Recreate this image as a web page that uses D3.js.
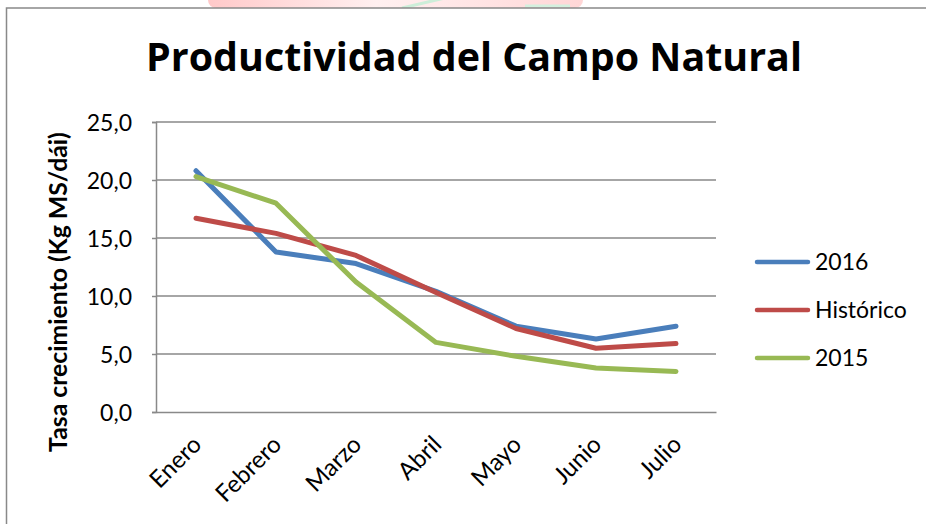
<!DOCTYPE html>
<html>
<head>
<meta charset="utf-8">
<script src="https://cdn.jsdelivr.net/npm/d3@7"></script>
<style>
  html, body { margin: 0; padding: 0; background: #fff; }
  svg { display: block; }
  text { fill: #000; font-variant-ligatures: none; }
</style>
</head>
<body>
<svg id="chart" width="926" height="524"></svg>
<script>
const months = ["Enero", "Febrero", "Marzo", "Abril", "Mayo", "Junio", "Julio"];
const s2016 = [20.8, 13.8, 12.8, 10.4, 7.4, 6.3, 7.4];
const sHistorico = [16.7, 15.4, 13.5, 10.3, 7.2, 5.5, 5.9];
const s2015 = [20.3, 18.0, 11.2, 6.0, 4.8, 3.8, 3.5];
const yTicks = [0, 5, 10, 15, 20, 25];
const seriesNames = ["2016", "Histórico", "2015"];
const seriesColors = ["#4A7EBB", "#BE4B48", "#98B954"];
const titleText = "Productividad del Campo Natural";
const yTitle = "Tasa crecimiento (Kg MS/dái)";

const series = [s2016, sHistorico, s2015];
const FONT = "Lato, 'Open Sans', sans-serif";

const svg = d3.select("#chart");

// faint watermark at the top
const defs = svg.append("defs");
const grad = defs.append("linearGradient").attr("id", "wm").attr("x1", "0").attr("x2", "1");
grad.append("stop").attr("offset", "0").attr("stop-color", "#ffc9c9");
grad.append("stop").attr("offset", "0.45").attr("stop-color", "#fff0f0");
grad.append("stop").attr("offset", "0.75").attr("stop-color", "#ffe3e3");
grad.append("stop").attr("offset", "1").attr("stop-color", "#ffd6d6");
svg.append("rect").attr("x", 208).attr("y", -10).attr("width", 375).attr("height", 18)
  .attr("rx", 8).attr("fill", "url(#wm)");
svg.append("line").attr("x1", 402).attr("y1", 8).attr("x2", 445).attr("y2", -2)
  .attr("stroke", "#cdeed9").attr("stroke-width", 3);
svg.append("line").attr("x1", 525).attr("y1", 6).attr("x2", 570).attr("y2", 6)
  .attr("stroke", "#d3f0de").attr("stroke-width", 3);

// chart frame
svg.append("rect").attr("x", 6.5).attr("y", 8).attr("width", 1000).attr("height", 600)
  .attr("fill", "#fff").attr("stroke", "#898989").attr("stroke-width", 1.5);

const x = d3.scaleBand().domain(months).range([156, 716]);
const y = d3.scaleLinear().domain([0, 25]).range([412, 122]);
const cx = d => x(d) + x.bandwidth() / 2;

// gridlines
svg.append("g").selectAll("line").data(yTicks.filter(t => t > 0)).join("line")
  .attr("x1", 156).attr("x2", 716)
  .attr("y1", d => y(d)).attr("y2", d => y(d))
  .attr("stroke", "#898989").attr("stroke-width", 1.5);

// y axis
const yAxis = svg.append("g").attr("transform", "translate(156,0)")
  .call(d3.axisLeft(y).tickValues(yTicks).tickSize(4).tickPadding(20)
    .tickFormat(d => d3.format(".1f")(d).replace(".", ",")));
yAxis.select(".domain").attr("stroke", "#898989").attr("stroke-width", 1.5);
yAxis.selectAll(".tick line").attr("stroke", "#898989").attr("stroke-width", 1.5);
yAxis.selectAll(".tick text").style("font-family", FONT).style("font-size", "23px")
  .attr("fill", "#000").attr("dy", "0.36em");

// x axis
const xAxis = svg.append("g").attr("transform", "translate(0,412)")
  .call(d3.axisBottom(x).tickSize(0).tickPadding(0));
xAxis.select(".domain").attr("stroke", "#898989").attr("stroke-width", 1.5);
xAxis.selectAll(".tick text")
  .style("font-family", FONT).style("font-size", "24px")
  .attr("fill", "#000")
  .attr("text-anchor", "end")
  .attr("x", 0).attr("y", 0).attr("dy", 0)
  .attr("transform", "translate(7,34) rotate(-45)");

// lines
const line = d3.line().x((d, i) => cx(months[i])).y(d => y(d));
svg.append("g").selectAll("path").data(series).join("path")
  .attr("d", d => line(d))
  .attr("fill", "none")
  .attr("stroke", (d, i) => seriesColors[i])
  .attr("stroke-width", 5)
  .attr("stroke-linejoin", "round")
  .attr("stroke-linecap", "round");

// title (font size fitted to the reference width)
const title = svg.append("text").attr("x", 474).attr("y", 71).attr("text-anchor", "middle")
  .style("font-family", "'Open Sans', Lato, sans-serif")
  .style("font-weight", "bold").style("font-size", "36px").text(titleText);
const tw = title.node().getComputedTextLength();
title.style("font-size", (36 * 656 / tw) + "px");

// y title
const yt = svg.append("text").attr("transform", "translate(67,292) rotate(-90)")
  .attr("text-anchor", "middle")
  .style("font-family", FONT).style("font-weight", "bold").style("font-size", "24px")
  .text(yTitle);
const yw = yt.node().getComputedTextLength();
yt.style("font-size", (24 * 320 / yw) + "px");

// legend
const legY = d3.scalePoint().domain(seriesNames).range([262, 358]);
const leg = svg.append("g").selectAll("g").data(seriesNames).join("g")
  .attr("transform", d => `translate(0,${legY(d)})`);
leg.append("line").attr("x1", 757).attr("x2", 808).attr("y1", 0).attr("y2", 0)
  .attr("stroke", (d, i) => seriesColors[i]).attr("stroke-width", 4.5).attr("stroke-linecap", "round");
leg.append("text").attr("x", 815).attr("y", 0).attr("dy", "0.36em")
  .style("font-family", FONT).style("font-size", "23px").text(d => d);
</script>
</body>
</html>
